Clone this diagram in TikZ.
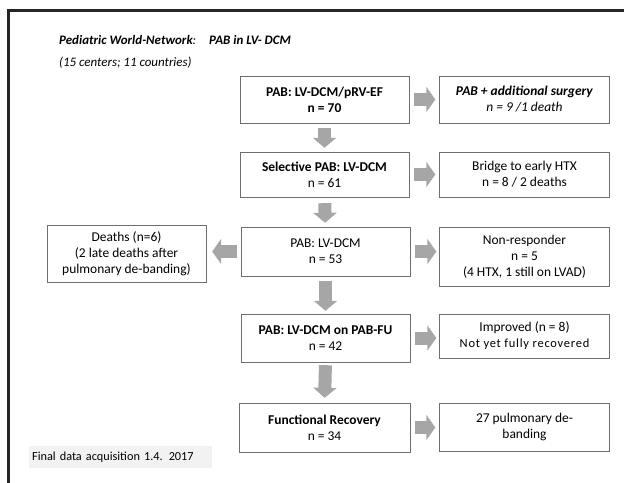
\documentclass[tikz,border=0pt]{standalone}
\usepackage{fontspec}
\setmainfont{Carlito}
\usetikzlibrary{arrows.meta}

\definecolor{arrgray}{RGB}{166,166,166}
\definecolor{boxgray}{RGB}{110,110,110}
\definecolor{notegray}{RGB}{242,242,242}

\tikzset{
	box/.style={draw=boxgray, fill=white, align=center, inner sep=1pt, font=\fontsize{13.5}{16}\selectfont},
	dnarrow/.style={arrgray, line width=13bp, -{Triangle[length=10bp,width=23bp]}},
	sidearrow/.style={arrgray, line width=13bp, -{Triangle[length=9bp,width=25bp]}}
}

\begin{document}
\begin{tikzpicture}[x=1bp,y=-1bp]
	\useasboundingbox (0,0) rectangle (624,483);
	
	%frame
	\draw[line width=2.2bp, black!85] (8.5,483) -- (8.5,10.5) -- (624,10.5);
	
	%title
	\node[anchor=west, inner sep=0pt, font=\fontsize{13}{15}\selectfont\bfseries\itshape] (title) at (59,40)
		{Pediatric World-Network\textmd{:}\hspace{1em}PAB in LV- DCM};
	\node[anchor=west, inner sep=0pt, font=\fontsize{13}{15}\selectfont\itshape] (subtitle) at (59,63)
		{(15 centers; 11 countries)};
	
	%main column
	\node[box, minimum width=169bp, minimum height=47bp] (pab) at (324.5,99.5)
		{\textbf{PAB: LV-DCM/pRV-EF}\\\textbf{n = 70}};
	\node[box, minimum width=169bp, minimum height=45bp] (sel) at (324.5,174.5)
		{\textbf{Selective PAB: LV-DCM}\\n = 61};
	\node[box, minimum width=169bp, minimum height=49bp] (lv) at (325.5,251.5)
		{PAB: LV-DCM\\n = 53};
	\node[box, minimum width=169bp, minimum height=48bp] (fu) at (325.5,338)
		{\textbf{PAB: LV-DCM on PAB-FU}\\n = 42};
	\node[box, minimum width=171bp, minimum height=49bp] (rec) at (324.5,427.5)
		{\textbf{Functional Recovery}\\n = 34};
	
	%side boxes
	\node[box, minimum width=170bp, minimum height=47bp] (add) at (524.5,99.5)
		{\textbf{\itshape PAB + additional surgery}\\\textit{n = 9 /1 death}};
	\node[box, minimum width=170bp, minimum height=45bp] (htx) at (524.5,174.5)
		{Bridge to early HTX\\n = 8 / 2 deaths};
	\node[box, minimum width=170bp, minimum height=59bp] (nonr) at (524.5,256.5)
		{Non-responder\\n = 5\\(4 HTX, 1 still on LVAD)};
	\node[box, minimum width=159bp, minimum height=57bp] (death) at (126.5,253.5)
		{Deaths (n=6)\\(2 late deaths after\\pulmonary de-banding)};
	\node[box, minimum width=170bp, minimum height=44bp] (impr) at (524.5,336)
		{Improved (n = 8)\\{\fontsize{12.5}{15}\selectfont\addfontfeatures{LetterSpace=6}Not yet fully recovered}};
	\node[box, minimum width=170bp, minimum height=48bp] (deband) at (524.5,427)
		{27 pulmonary de-\\banding};
	
	%note
	\node[fill=notegray, anchor=west, minimum width=183bp, minimum height=22bp, text width=177bp,
		inner xsep=3bp, font=\fontsize{12.3}{14}\selectfont] (note) at (29,457) {Final data acquisition 1.4. 2017};
	
	%down arrows
	\draw[dnarrow, shorten <=5bp, shorten >=4bp] (pab) -- (sel);
	\draw[dnarrow, shorten <=6bp, shorten >=4bp] (sel) -- (lv);
	\draw[dnarrow, shorten <=5bp, shorten >=3bp] (lv.south) -- (fu.north);
	\draw[dnarrow, shorten <=3bp, shorten >=5bp] (fu.south) -- (rec.north);
	
	%side arrows
	\draw[sidearrow, shorten <=5bp, shorten >=4bp] (pab.east) -- (pab.east -| add.west);
	\draw[sidearrow, shorten <=5bp, shorten >=4bp] (sel.east) -- (sel.east -| htx.west);
	\draw[sidearrow, shorten <=5bp, shorten >=3bp] (lv.east) -- (lv.east -| nonr.west);
	\draw[sidearrow, shorten <=4bp, shorten >=6bp] (lv.west) -- (lv.west -| death.east);
	\draw[sidearrow, shorten <=5bp, shorten >=3bp] (fu.east) -- (fu.east -| impr.west);
	\draw[sidearrow, shorten <=5bp, shorten >=4bp] (rec.east) -- (rec.east -| deband.west);
\end{tikzpicture}
\end{document}
